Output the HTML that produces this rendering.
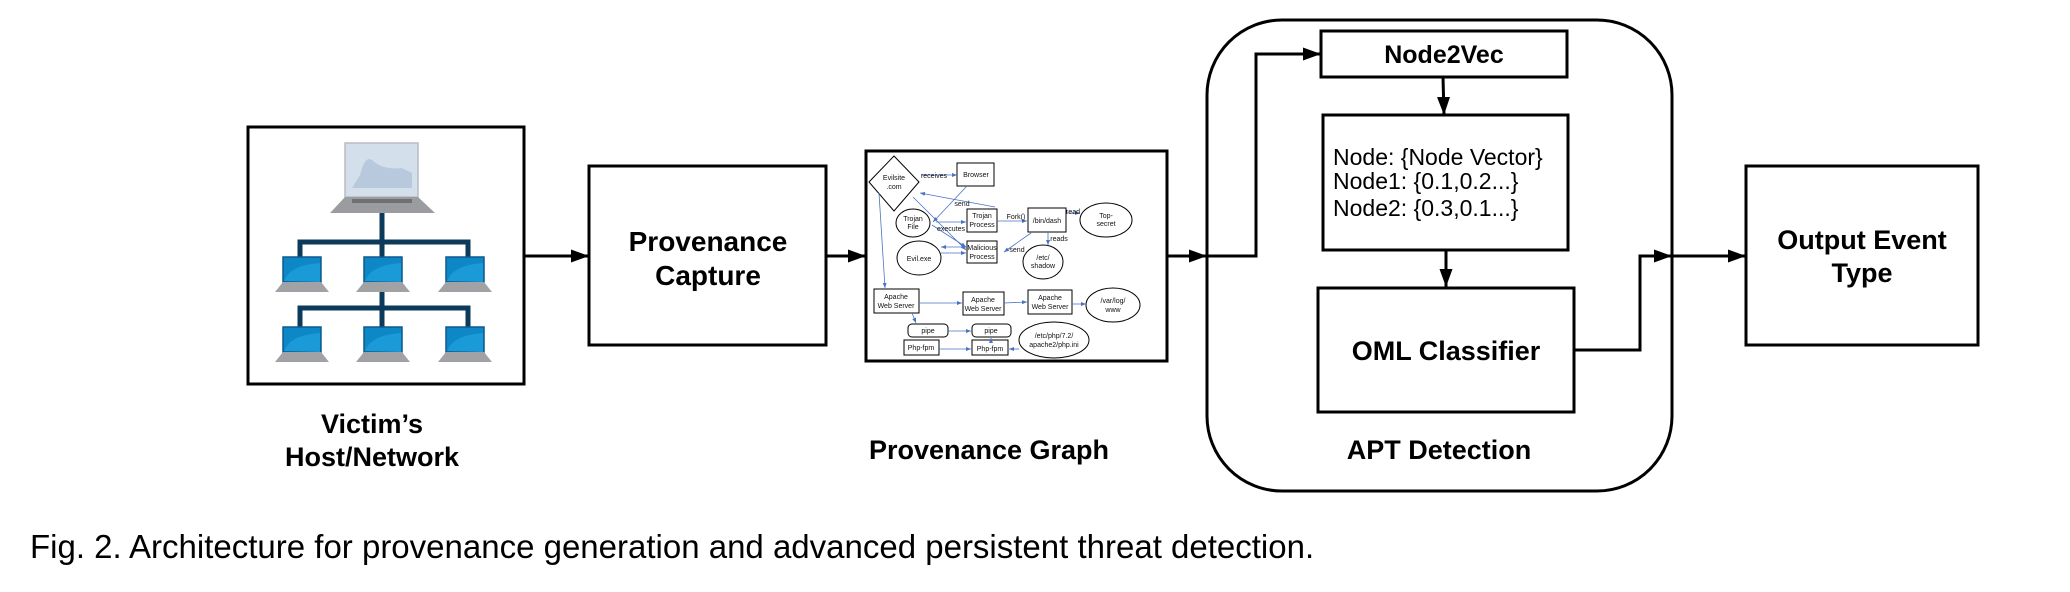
<!DOCTYPE html>
<html><head><meta charset="utf-8"><style>
html,body{margin:0;padding:0;background:#fff;}
svg{display:block;}
.b{font-family:"Liberation Sans",sans-serif;font-weight:bold;fill:#000;}
.n{font-family:"Liberation Sans",sans-serif;fill:#000;}
.s{font-family:"Liberation Sans",sans-serif;font-size:7px;fill:#111;text-anchor:middle;}
</style></head><body>
<svg width="2070" height="592" viewBox="0 0 2070 592" xmlns="http://www.w3.org/2000/svg">
<defs>
<marker id="ah" markerWidth="18" markerHeight="13" refX="18" refY="6.5" orient="auto" markerUnits="userSpaceOnUse"><path d="M0,0 L18,6.5 L0,13 z" fill="#000"/></marker>
<marker id="bh" markerWidth="5" markerHeight="4" refX="5" refY="2" orient="auto" markerUnits="userSpaceOnUse"><path d="M0,0 L5,2 L0,4 z" fill="#4a72c4"/></marker>
</defs>

<rect x="248" y="127" width="276" height="257" fill="#fff" stroke="#000" stroke-width="3"/>
<g stroke="#0b3a5a" stroke-width="5" fill="none">
<path d="M382,212 V292"/>
<path d="M300,257 V242 H468 V257"/>
<path d="M382,292 V327"/>
<path d="M300,327 V308 H468 V327"/>
</g>
<rect x="345" y="143" width="73" height="54" fill="#d4dfec" stroke="#b8bcc4" stroke-width="1.5"/>
<path d="M360,175 q5,-20 12,-15 q10,10 30,8 l10,5 v15 h-60z" fill="#b9c9dd"/>
<polygon points="345,197 418,197 435,213 330,213" fill="#9a9ca0"/>
<rect x="352" y="199" width="60" height="4" fill="#6e7074"/>
<g>
<g id="lp">
<rect x="283" y="257" width="38" height="25" fill="#0e87c6" stroke="#0d5a8a" stroke-width="1.5"/>
<path d="M284,281 q6,-16 36,-18 v19 z" fill="#1a9ad6"/>
<polygon points="283,282 321,282 329,292 275,292" fill="#a0a2a6"/>
</g>
<use href="#lp" x="81"/><use href="#lp" x="163"/>
<use href="#lp" y="70"/><use href="#lp" x="81" y="70"/><use href="#lp" x="163" y="70"/>
</g>
<text class="b" x="372" y="433" font-size="27" text-anchor="middle">Victim’s</text>
<text class="b" x="372" y="466" font-size="27" text-anchor="middle">Host/Network</text>

<g stroke="#000" stroke-width="3" fill="none">
<line x1="524" y1="256" x2="589" y2="256" marker-end="url(#ah)"/>
<line x1="826" y1="256" x2="866" y2="256" marker-end="url(#ah)"/>
<line x1="1167" y1="256" x2="1207" y2="256" marker-end="url(#ah)"/>
<polyline points="1207,256 1256,256 1256,54 1321,54" marker-end="url(#ah)"/>
<line x1="1443" y1="77" x2="1444" y2="115" marker-end="url(#ah)"/>
<line x1="1446" y1="250" x2="1446" y2="287" marker-end="url(#ah)"/>
<polyline points="1574,350 1640,350 1640,256 1672,256" marker-end="url(#ah)"/>
<line x1="1672" y1="256" x2="1746" y2="256" marker-end="url(#ah)"/>
</g>

<rect x="589" y="166" width="237" height="179" fill="#fff" stroke="#000" stroke-width="3"/>
<text class="b" x="708" y="251" font-size="28" text-anchor="middle">Provenance</text>
<text class="b" x="708" y="285" font-size="28" text-anchor="middle">Capture</text>

<rect x="866" y="151" width="301" height="210" fill="#fff" stroke="#000" stroke-width="3"/>
<g fill="#fff" stroke="#000" stroke-width="1">
<polygon points="869,182 894,156 919,182 894,211"/>
<rect x="957" y="163" width="37" height="23"/>
<ellipse cx="913" cy="223" rx="17" ry="14"/>
<rect x="967" y="209" width="30" height="23"/>
<rect x="1028" y="208" width="38" height="24"/>
<ellipse cx="1106" cy="220" rx="26" ry="17"/>
<ellipse cx="919" cy="258" rx="22" ry="17"/>
<rect x="967" y="241" width="30" height="22"/>
<ellipse cx="1043" cy="262" rx="20" ry="17"/>
<rect x="874" y="289" width="45" height="24"/>
<rect x="963" y="292" width="41" height="23"/>
<rect x="1028" y="290" width="44" height="24"/>
<ellipse cx="1113" cy="305" rx="27" ry="17"/>
<rect x="908" y="324" width="40" height="13" rx="4"/>
<rect x="972" y="324" width="39" height="13" rx="4"/>
<rect x="904" y="340" width="35" height="15"/>
<rect x="972" y="340" width="36" height="15"/>
<ellipse cx="1054" cy="340" rx="35" ry="18"/>
</g>
<g stroke="#4a72c4" stroke-width="0.8" fill="none" marker-end="url(#bh)">
<line x1="921" y1="175" x2="957" y2="175"/>
<line x1="967" y1="186" x2="933" y2="222"/>
<line x1="995" y1="207" x2="920" y2="193"/>
<line x1="936" y1="222" x2="966" y2="222"/>
<line x1="932" y1="225" x2="966" y2="247"/>
<line x1="913" y1="197" x2="966" y2="250"/>
<line x1="966" y1="247" x2="941" y2="247"/>
<line x1="941" y1="253" x2="966" y2="253"/>
<line x1="997" y1="221" x2="1027" y2="221"/>
<line x1="1066" y1="213" x2="1080" y2="213"/>
<line x1="1048" y1="232" x2="1048" y2="245"/>
<line x1="1031" y1="233" x2="1004" y2="252"/>
<line x1="879" y1="193" x2="885" y2="288"/>
<line x1="919" y1="303" x2="962" y2="303"/>
<line x1="1004" y1="303" x2="1027" y2="302"/>
<line x1="1072" y1="304" x2="1086" y2="304"/>
<line x1="912" y1="313" x2="916" y2="323"/>
<line x1="948" y1="331" x2="971" y2="331"/>
<line x1="939" y1="349" x2="971" y2="349"/>
<line x1="1019" y1="349" x2="1009" y2="349"/>
<line x1="991" y1="340" x2="991" y2="338"/>
</g>
<g class="s">
<text x="894" y="180">Evilsite</text><text x="894" y="189">.com</text>
<text x="976" y="177">Browser</text>
<text x="934" y="178">receives</text>
<text x="913" y="221">Trojan</text><text x="913" y="229">File</text>
<text x="982" y="218">Trojan</text><text x="982" y="227">Process</text>
<text x="962" y="206">send</text>
<text x="951" y="231">executes</text>
<text x="1016" y="219">Fork()</text>
<text x="1047" y="223">/bin/dash</text>
<text x="1073" y="214">read</text>
<text x="1106" y="218">Top-</text><text x="1106" y="226">secret</text>
<text x="1059" y="241">reads</text>
<text x="919" y="261">Evil.exe</text>
<text x="982" y="250">Malicious</text><text x="982" y="259">Process</text>
<text x="1017" y="252">send</text>
<text x="1043" y="260">/etc/</text><text x="1043" y="268">shadow</text>
<text x="896" y="299">Apache</text><text x="896" y="308">Web Server</text>
<text x="983" y="302">Apache</text><text x="983" y="311">Web Server</text>
<text x="1050" y="300">Apache</text><text x="1050" y="309">Web Server</text>
<text x="1113" y="303">/var/log/</text><text x="1113" y="312">www</text>
<text x="928" y="333">pipe</text><text x="991" y="333">pipe</text>
<text x="921" y="350">Php-fpm</text><text x="990" y="351">Php-fpm</text>
<text x="1054" y="338">/etc/php/7.2/</text><text x="1054" y="347">apache2/php.ini</text>
</g>
<text class="b" x="989" y="459" font-size="27" text-anchor="middle">Provenance Graph</text>

<rect x="1207" y="20" width="465" height="471" rx="75" ry="75" fill="none" stroke="#000" stroke-width="3"/>
<rect x="1321" y="31" width="246" height="46" fill="#fff" stroke="#000" stroke-width="3"/>
<text class="b" x="1444" y="63" font-size="25" text-anchor="middle">Node2Vec</text>
<rect x="1323" y="115" width="245" height="135" fill="#fff" stroke="#000" stroke-width="3"/>
<text class="n" x="1333" y="165" font-size="23">Node: {Node Vector}</text>
<text class="n" x="1333" y="189" font-size="23">Node1: {0.1,0.2...}</text>
<text class="n" x="1333" y="216" font-size="23">Node2: {0.3,0.1...}</text>
<rect x="1318" y="288" width="256" height="124" fill="#fff" stroke="#000" stroke-width="3"/>
<text class="b" x="1446" y="360" font-size="27" text-anchor="middle">OML Classifier</text>
<text class="b" x="1439" y="459" font-size="27" text-anchor="middle">APT Detection</text>

<rect x="1746" y="166" width="232" height="179" fill="#fff" stroke="#000" stroke-width="3"/>
<text class="b" x="1862" y="249" font-size="27" text-anchor="middle">Output Event</text>
<text class="b" x="1862" y="282" font-size="27" text-anchor="middle">Type</text>

<text class="n" x="30" y="558" font-size="33">Fig. 2. Architecture for provenance generation and advanced persistent threat detection.</text>
</svg>
</body></html>
